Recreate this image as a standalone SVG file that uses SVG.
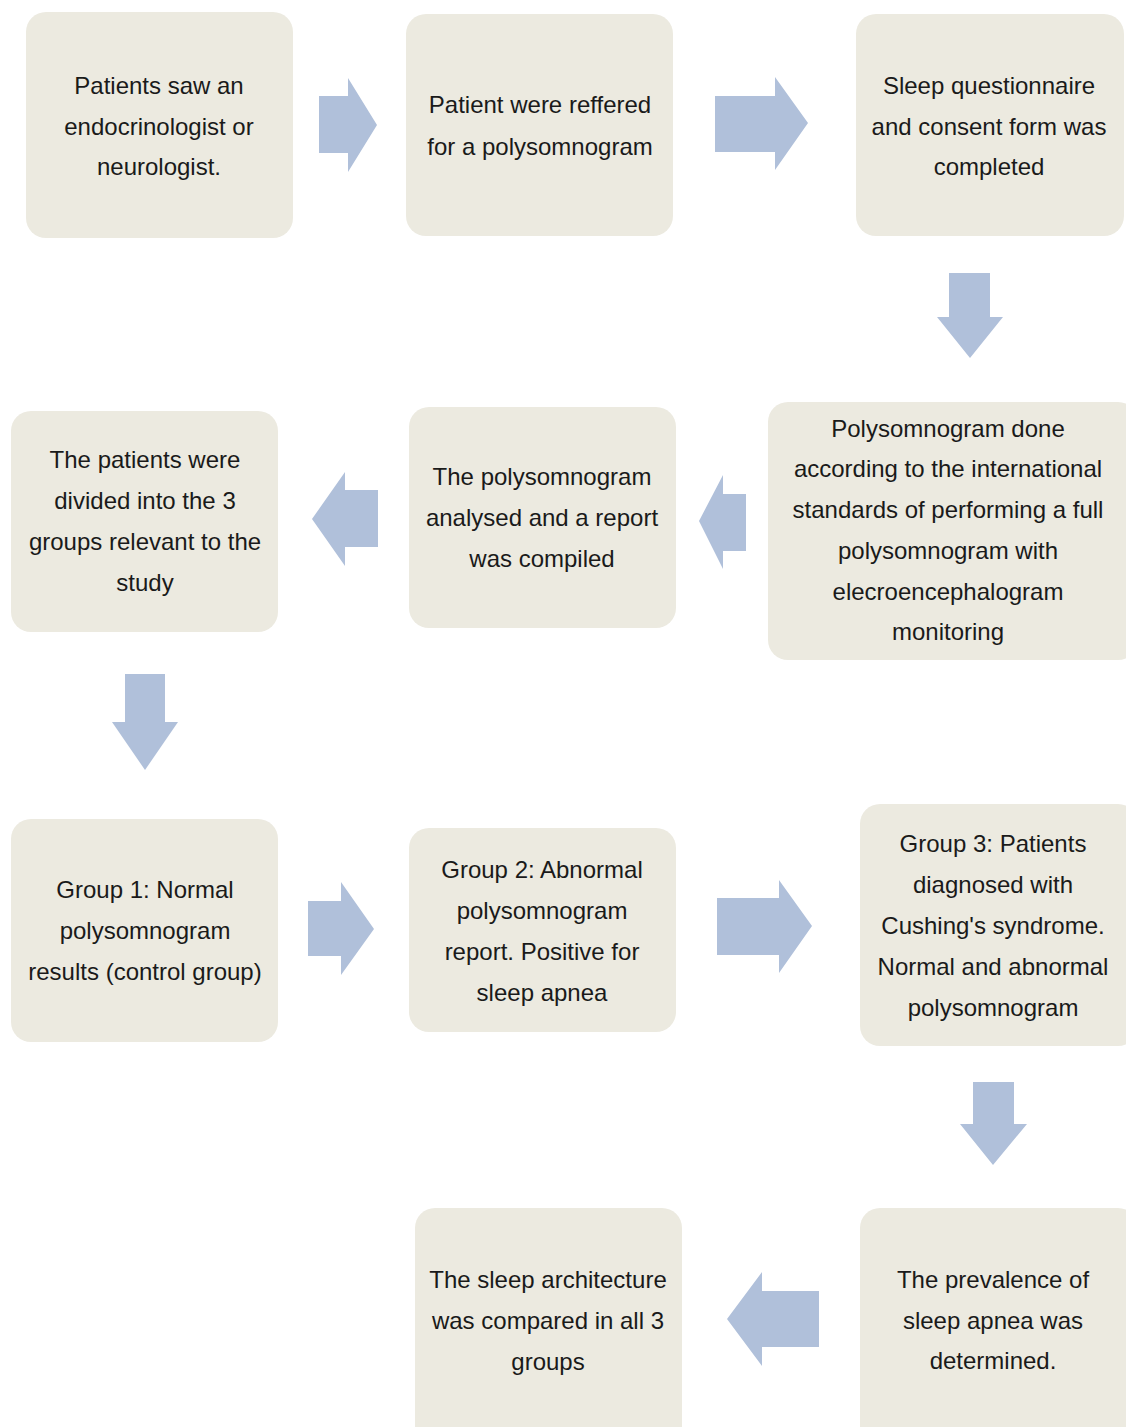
<svg xmlns="http://www.w3.org/2000/svg" width="1126" height="1427" viewBox="0 0 1126 1427">
  <style>
    .box { fill: #ECEAE0; }
    .arrow { fill: #B0C0DA; }
    text { font-family: "Liberation Sans", Arial, sans-serif; font-size: 24px; fill: #1a1a1a; text-anchor: middle; }
  </style>
  <rect width="1126" height="1427" fill="#ffffff"/>

  <!-- Row 1 -->
  <g id="node-referral">
    <rect class="box" x="26" y="12" width="267" height="226" rx="20"/>
    <text x="159" y="94">Patients saw an</text>
    <text x="159" y="135">endocrinologist or</text>
    <text x="159" y="175">neurologist.</text>
  </g>
  <g id="node-polysomnogram-referral">
    <rect class="box" x="406" y="14" width="267" height="222" rx="20"/>
    <text x="540" y="113">Patient were reffered</text>
    <text x="540" y="155">for a polysomnogram</text>
  </g>
  <g id="node-questionnaire">
    <rect class="box" x="856" y="14" width="268" height="222" rx="20"/>
    <text x="989" y="94">Sleep questionnaire</text>
    <text x="989" y="135">and consent form was</text>
    <text x="989" y="175">completed</text>
  </g>

  <!-- Row 2 -->
  <g id="node-grouping">
    <rect class="box" x="11" y="411" width="267" height="221" rx="20"/>
    <text x="145" y="468">The patients were</text>
    <text x="145" y="509">divided into the 3</text>
    <text x="145" y="550">groups relevant to the</text>
    <text x="145" y="591">study</text>
  </g>
  <g id="node-analysis">
    <rect class="box" x="409" y="407" width="267" height="221" rx="20"/>
    <text x="542" y="485">The polysomnogram</text>
    <text x="542" y="526">analysed and a report</text>
    <text x="542" y="567">was compiled</text>
  </g>
  <g id="node-polysomnogram">
    <rect class="box" x="768" y="402" width="370" height="258" rx="20"/>
    <text x="948" y="437">Polysomnogram done</text>
    <text x="948" y="477">according to the international</text>
    <text x="948" y="518">standards of performing a full</text>
    <text x="948" y="559">polysomnogram with</text>
    <text x="948" y="600">elecroencephalogram</text>
    <text x="948" y="640">monitoring</text>
  </g>

  <!-- Row 3 -->
  <g id="node-group1">
    <rect class="box" x="11" y="819" width="267" height="223" rx="20"/>
    <text x="145" y="898">Group 1: Normal</text>
    <text x="145" y="939">polysomnogram</text>
    <text x="145" y="980">results (control group)</text>
  </g>
  <g id="node-group2">
    <rect class="box" x="409" y="828" width="267" height="204" rx="20"/>
    <text x="542" y="878">Group 2: Abnormal</text>
    <text x="542" y="919">polysomnogram</text>
    <text x="542" y="960">report. Positive for</text>
    <text x="542" y="1001">sleep apnea</text>
  </g>
  <g id="node-group3">
    <rect class="box" x="860" y="804" width="278" height="242" rx="20"/>
    <text x="993" y="852">Group 3: Patients</text>
    <text x="993" y="893">diagnosed with</text>
    <text x="993" y="934">Cushing's syndrome.</text>
    <text x="993" y="975">Normal and abnormal</text>
    <text x="993" y="1016">polysomnogram</text>
  </g>

  <!-- Row 4 -->
  <g id="node-comparison">
    <rect class="box" x="415" y="1208" width="267" height="240" rx="20"/>
    <text x="548" y="1288">The sleep architecture</text>
    <text x="548" y="1329">was compared in all 3</text>
    <text x="548" y="1370">groups</text>
  </g>
  <g id="node-prevalence">
    <rect class="box" x="860" y="1208" width="278" height="240" rx="20"/>
    <text x="993" y="1288">The prevalence of</text>
    <text x="993" y="1329">sleep apnea was</text>
    <text x="993" y="1369">determined.</text>
  </g>

  <!-- Block arrows between steps -->
  <g id="connectors">
    <polygon class="arrow" points="319,96 348,96 348,78 377,125 348,172 348,153 319,153"/>
    <polygon class="arrow" points="715,96 775,96 775,77 808,123 775,170 775,152 715,152"/>
    <polygon class="arrow" points="949,273 990,273 990,317 1003,317 970,358 937,317 949,317"/>
    <polygon class="arrow" points="746,494 723,494 723,475 699,521 723,569 723,551 746,551"/>
    <polygon class="arrow" points="378,490 345,490 345,472 312,519 345,566 345,547 378,547"/>
    <polygon class="arrow" points="125,674 165,674 165,722 178,722 145,770 112,722 125,722"/>
    <polygon class="arrow" points="308,901 341,901 341,882 374,929 341,975 341,956 308,956"/>
    <polygon class="arrow" points="717,898 779,898 779,880 812,926 779,973 779,955 717,955"/>
    <polygon class="arrow" points="973,1082 1014,1082 1014,1124 1027,1124 993,1165 960,1124 973,1124"/>
    <polygon class="arrow" points="819,1291 762,1291 762,1272 727,1319 762,1366 762,1347 819,1347"/>
  </g>
</svg>
